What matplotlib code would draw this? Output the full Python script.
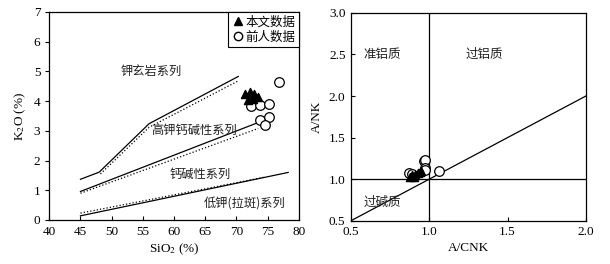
import matplotlib
matplotlib.use('Agg')
import matplotlib.pyplot as plt
from matplotlib.lines import Line2D

plt.rcParams['font.family'] = ['Liberation Serif', 'Noto Sans CJK SC']
plt.rcParams['mathtext.fontset'] = 'stix'

CJK = ['Noto Sans CJK SC', 'Liberation Serif']

# --- K2O vs SiO2 boundaries (solid and dotted versions) ---
upper_x = [45, 48, 56, 70.3]
upper_y = [1.37, 1.61, 3.24, 4.83]
upper_dot_x = [48.2, 56, 70.3]
upper_dot_y = [1.55, 3.12, 4.68]
mid_x = [45, 73.5]
mid_y = [0.96, 3.28]
mid_dot_x = [45, 73.5]
mid_dot_y = [0.90, 3.08]
low_x = [45, 78.3]
low_y = [0.14, 1.60]
low_dot_x = [45, 74.5]
low_dot_y = [0.23, 1.44]

series_names = ['钾玄岩系列', '高钾钙碱性系列', '钙碱性系列', '低钾(拉斑)系列']
series_pos = [(56.4, 5.0), (63.2, 3.0), (64.2, 1.55), (71.3, 0.56)]

# this study (triangles) and previous data (circles)
tri_sio2 = [71.3, 72.1, 72.8, 73.4, 71.8, 72.6]
tri_k2o = [4.25, 4.29, 4.24, 4.13, 4.04, 4.08]
cir_sio2 = [76.8, 72.4, 73.8, 75.3, 73.8, 75.2, 74.6]
cir_k2o = [4.63, 3.84, 3.86, 3.90, 3.38, 3.48, 3.20]

# --- A/NK vs A/CNK ---
tri_acnk = [0.88, 0.90, 0.91, 0.93, 0.94, 0.95, 0.89]
tri_ank = [1.03, 1.02, 1.05, 1.07, 1.09, 1.10, 1.05]
cir_acnk = [1.06, 0.965, 0.975, 0.97, 0.975, 0.87, 0.89]
cir_ank = [1.10, 1.22, 1.23, 1.13, 1.11, 1.08, 1.06]

region_names = ['准铝质', '过铝质', '过碱质']
region_pos = [(0.70, 2.5), (1.35, 2.5), (0.70, 0.72)]

fig = plt.figure(figsize=(6.1, 2.64), dpi=100)
ax1 = fig.add_axes([0.0808, 0.1667, 0.409, 0.788])
ax2 = fig.add_axes([0.5754, 0.164, 0.385, 0.787])

# left panel
ax1.plot(upper_x, upper_y, color='black', lw=0.9)
ax1.plot(upper_dot_x, upper_dot_y, color='black', lw=0.9, ls=':')
ax1.plot(mid_x, mid_y, color='black', lw=0.9)
ax1.plot(mid_dot_x, mid_dot_y, color='black', lw=0.9, ls=':')
ax1.plot(low_x, low_y, color='black', lw=0.9)
ax1.plot(low_dot_x, low_dot_y, color='black', lw=0.9, ls=':')
for name, (x, y) in zip(series_names, series_pos):
    ax1.text(x, y, name, family=CJK, fontsize=8.8, ha='center', va='center', color='#222')
ax1.scatter(cir_sio2, cir_k2o, s=48, facecolors='white', edgecolors='black', linewidths=0.9, zorder=4)
ax1.scatter(tri_sio2, tri_k2o, s=34, marker='^', color='black', zorder=5)
ax1.set_xlim(40, 80)
ax1.set_ylim(0, 7)
ax1.set_xticks(range(40, 81, 5))
ax1.set_yticks(range(0, 8))
ax1.tick_params(axis='x', direction='in', length=3, labelsize=9.5, pad=4)
ax1.tick_params(axis='y', direction='out', length=3, labelsize=9.5)
ax1.set_xlabel('SiO$_2$ (%)', fontsize=9.5, labelpad=3)
ax1.set_ylabel('K$_2$O (%)', fontsize=9.5, labelpad=4)
handles = [Line2D([], [], marker='^', color='black', ls='none', markersize=6),
           Line2D([], [], marker='o', markerfacecolor='white', markeredgecolor='black',
                  ls='none', markersize=6)]
leg = ax1.legend(handles, ['本文数据', '前人数据'], loc='upper right', fancybox=False,
                 edgecolor='black', framealpha=1, borderaxespad=0, handletextpad=0.1,
                 handlelength=1.0, borderpad=0.3, labelspacing=0.15,
                 prop={'family': CJK, 'size': 9})
leg.get_frame().set_linewidth(0.8)

# right panel
ax2.plot([0.5, 2.0], [0.5, 2.0], color='black', lw=0.9)
ax2.axvline(1.0, color='black', lw=0.9)
ax2.axhline(1.0, color='black', lw=0.9)
for name, (x, y) in zip(region_names, region_pos):
    ax2.text(x, y, name, family=CJK, fontsize=9, ha='center', va='center', color='#222')
ax2.scatter(cir_acnk, cir_ank, s=48, facecolors='white', edgecolors='black', linewidths=0.9, zorder=4)
ax2.scatter(tri_acnk, tri_ank, s=34, marker='^', color='black', zorder=5)
ax2.set_xlim(0.5, 2.0)
ax2.set_ylim(0.5, 3.0)
ax2.set_xticks([0.5, 1.0, 1.5, 2.0])
ax2.set_yticks([0.5, 1.0, 1.5, 2.0, 2.5, 3.0])
ax2.xaxis.set_major_formatter(matplotlib.ticker.FormatStrFormatter('%.1f'))
ax2.yaxis.set_major_formatter(matplotlib.ticker.FormatStrFormatter('%.1f'))
ax2.tick_params(axis='both', direction='in', length=3, labelsize=9.5, pad=4)
ax2.set_xlabel('A/CNK', fontsize=9.5, labelpad=3)
ax2.set_ylabel('A/NK', fontsize=9.5, labelpad=4)

for ax in (ax1, ax2):
    for sp in ax.spines.values():
        sp.set_linewidth(0.9)

fig.savefig('out.png', dpi=100)
